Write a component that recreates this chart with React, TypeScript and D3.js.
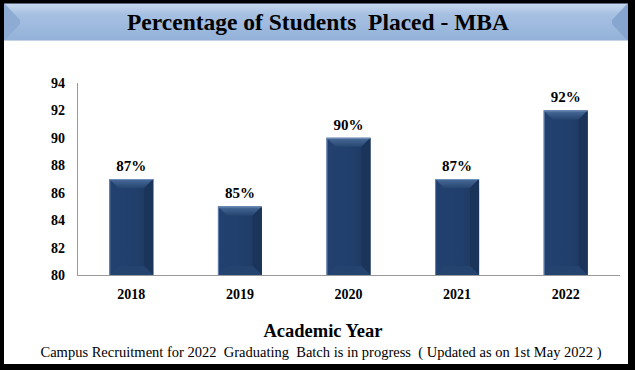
import * as d3 from "d3";
import { useEffect } from "react";

const years = ["2018", "2019", "2020", "2021", "2022"];
const placed = [87, 85, 90, 87, 92];
const yTicks = [80, 82, 84, 86, 88, 90, 92, 94];
const title = "Percentage of Students  Placed - MBA";
const xTitle = "Academic Year";
const footnote = "Campus Recruitment for 2022  Graduating  Batch is in progress  ( Updated as on 1st May 2022 )";

const W = 635;
const H = 370;
const margin = { left: 77, right: 15, top: 83, bottom: 95 };
const serif = "Liberation Serif";

export default function App() {
  useEffect(() => {
    document.body.style.margin = "0";
  }, []);

  const x = d3
    .scaleBand()
    .domain(years)
    .range([margin.left, W - margin.right])
    .paddingInner(0.595)
    .paddingOuter(0.2975);

  const y = d3
    .scaleLinear()
    .domain([80, 94])
    .range([H - margin.bottom, margin.top]);

  const base = y(80);
  const bw = x.bandwidth();

  return (
    <svg width={W} height={H} style={{ display: "block" }}>
      <defs>
        <linearGradient id="banner" x1="0" x2="0" y1="0" y2="1">
          <stop offset="0%" stopColor="#c9d9ee" />
          <stop offset="30%" stopColor="#a6c0e2" />
          <stop offset="100%" stopColor="#93b1d8" />
        </linearGradient>
        <linearGradient id="barTop" x1="0" x2="0" y1="0" y2="1">
          <stop offset="0%" stopColor="#4a6c9a" />
          <stop offset="100%" stopColor="#264670" />
        </linearGradient>
        <linearGradient id="barFace" x1="0" x2="1" y1="0" y2="0">
          <stop offset="0%" stopColor="#224170" />
          <stop offset="60%" stopColor="#213f6b" />
          <stop offset="100%" stopColor="#1b375e" />
        </linearGradient>
      </defs>

      <rect x={0} y={0} width={W} height={H} fill="#fff" />
      {/* outer frame */}
      <rect x={0} y={0} width={4} height={H} fill="#000" />
      <rect x={628} y={0} width={7} height={H} fill="#000" />
      <rect x={0} y={364} width={W} height={6} fill="#000" />
      <rect x={0} y={0} width={W} height={3} fill="#000" />

      {/* title banner */}
      <rect x={4} y={3} width={624} height={38} fill="url(#banner)" />
      <polygon points="4,3 20,20 20,24 4,41" fill="#8eacd3" />
      <polygon points="628,3 612,20 612,24 628,41" fill="#87a6cf" />
      <line x1={4} y1={3.5} x2={628} y2={3.5} stroke="#5a6a80" strokeWidth={1} />
      <line x1={4} y1={40.5} x2={628} y2={40.5} stroke="#c4d2e4" strokeWidth={1} />
      <text
        x={318}
        y={30}
        textAnchor="middle"
        fontFamily={serif}
        fontWeight="bold"
        fontSize={23.5}
        fill="#000"
        style={{ whiteSpace: "pre" }}
      >
        {title}
      </text>

      {/* axes */}
      <line x1={margin.left + 0.5} y1={y(94)} x2={margin.left + 0.5} y2={base} stroke="#9a9a9a" />
      <line x1={margin.left} y1={base + 0.5} x2={W - margin.right} y2={base + 0.5} stroke="#9a9a9a" />

      {yTicks.map((t) => (
        <text
          key={t}
          x={65}
          y={y(t) + 5}
          textAnchor="end"
          fontFamily={serif}
          fontWeight="bold"
          fontSize={14}
        >
          {t}
        </text>
      ))}

      {years.map((yr, i) => {
        const x0 = x(yr)!;
        const top = y(placed[i]);
        const h = base - top;
        const b = Math.min(9, h / 2);
        const x1 = x0 + bw;
        return (
          <g key={yr}>
            <rect x={x0} y={top} width={bw} height={h} fill="url(#barFace)" />
            <polygon
              points={`${x0},${top} ${x1},${top} ${x1 - b},${top + b} ${x0 + b},${top + b}`}
              fill="url(#barTop)"
            />
            <polygon
              points={`${x1},${top} ${x1 - b},${top + b} ${x1 - b},${base - b} ${x1},${base}`}
              fill="#1a345a"
            />
            <polygon
              points={`${x0},${base} ${x0 + b},${base - b} ${x1 - b},${base - b} ${x1},${base}`}
              fill="#24436f"
            />
            <line x1={x0 + 0.5} y1={top} x2={x0 + 0.5} y2={base} stroke="#6584b0" strokeWidth={1} />
            <line x1={x0} y1={top + 0.5} x2={x1} y2={top + 0.5} stroke="#6f8fbb" strokeWidth={1} />
            <text
              x={x0 + bw / 2}
              y={top - 8}
              textAnchor="middle"
              fontFamily={serif}
              fontWeight="bold"
              fontSize={15}
            >
              {placed[i]}%
            </text>
            <text
              x={x0 + bw / 2}
              y={base + 24}
              textAnchor="middle"
              fontFamily={serif}
              fontWeight="bold"
              fontSize={14}
            >
              {yr}
            </text>
          </g>
        );
      })}

      <text
        x={323}
        y={337}
        textAnchor="middle"
        fontFamily={serif}
        fontWeight="bold"
        fontSize={18.5}
      >
        {xTitle}
      </text>
      <text
        x={321}
        y={357}
        textAnchor="middle"
        fontFamily={serif}
        fontSize={14.5}
        style={{ whiteSpace: "pre" }}
      >
        {footnote}
      </text>
    </svg>
  );
}
